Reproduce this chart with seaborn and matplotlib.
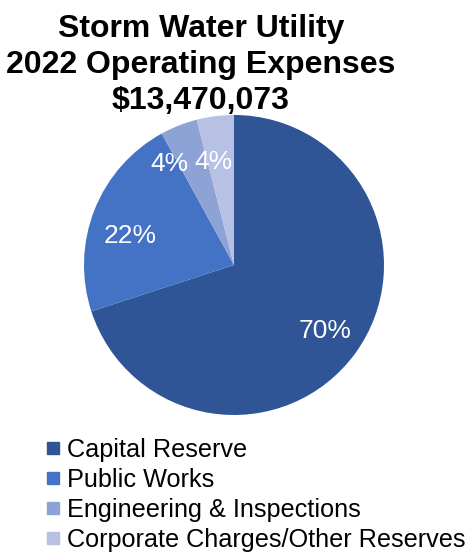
import matplotlib
matplotlib.use("Agg")
import matplotlib.pyplot as plt
from matplotlib.lines import Line2D
import numpy as np
import seaborn as sns

# Expense shares (%)
categories = ["Capital Reserve", "Public Works", "Engineering & Inspections",
              "Corporate Charges/Other Reserves"]
shares = [70, 22, 4, 4]
slice_colors = ["#2F5597", "#4472C4", "#8EA3D5", "#B6C1E4"]
title_lines = ["Storm Water Utility", "2022 Operating Expenses", "$13,470,073"]

sns.set_theme(style="white")
plt.rcParams["font.family"] = ["Liberation Sans", "DejaVu Sans"]
plt.rcParams["text.color"] = "black"
palette = sns.color_palette(slice_colors)

W, H, DPI = 469, 556, 100
fig = plt.figure(figsize=(W / DPI, H / DPI), dpi=DPI)
fig.patch.set_facecolor("white")

# pie centred at (234, 265) px with radius 150 px
cx, cy, r = 234, 265, 150
ax = fig.add_axes([(cx - r) / W, (H - cy - r) / H, 2 * r / W, 2 * r / H])
wedges, texts, autotexts = ax.pie(
    shares, colors=palette, startangle=90, counterclock=False,
    autopct=lambda p: f"{p:.0f}%", pctdistance=0.75,
    wedgeprops=dict(linewidth=0),
    textprops=dict(color="white", fontsize=19))
ax.set_xlim(-1, 1)
ax.set_ylim(-1, 1)
ax.set_aspect("equal")
ax.axis("off")

# nudge the small-slice labels like a best-fit layout
adjust = {1: (6, 0.72), 2: (11, 0.80), 3: (4, 0.70)}
for i, (dang, rad) in adjust.items():
    w = wedges[i]
    mid = np.deg2rad((w.theta1 + w.theta2) / 2 + dang)
    autotexts[i].set_position((rad * np.cos(mid), rad * np.sin(mid)))

# title
for k, line in enumerate(title_lines):
    fig.text(201 / W, 1 - (29 + 36 * k) / H, line, ha="center", va="center",
             fontsize=23, fontweight="bold", color="black")

handles = [Line2D([0], [0], marker="s", linestyle="none", markersize=9,
                  markerfacecolor=c, markeredgecolor=c) for c in slice_colors]
fig.legend(handles, categories, loc="upper left",
           bbox_to_anchor=(46 / W, 1 - 438 / H), frameon=False,
           fontsize=18.2, handlelength=0.55, handletextpad=0.3,
           labelspacing=0.24, borderpad=0, borderaxespad=0,
           labelcolor="black")

fig.savefig("out.png", dpi=DPI)
